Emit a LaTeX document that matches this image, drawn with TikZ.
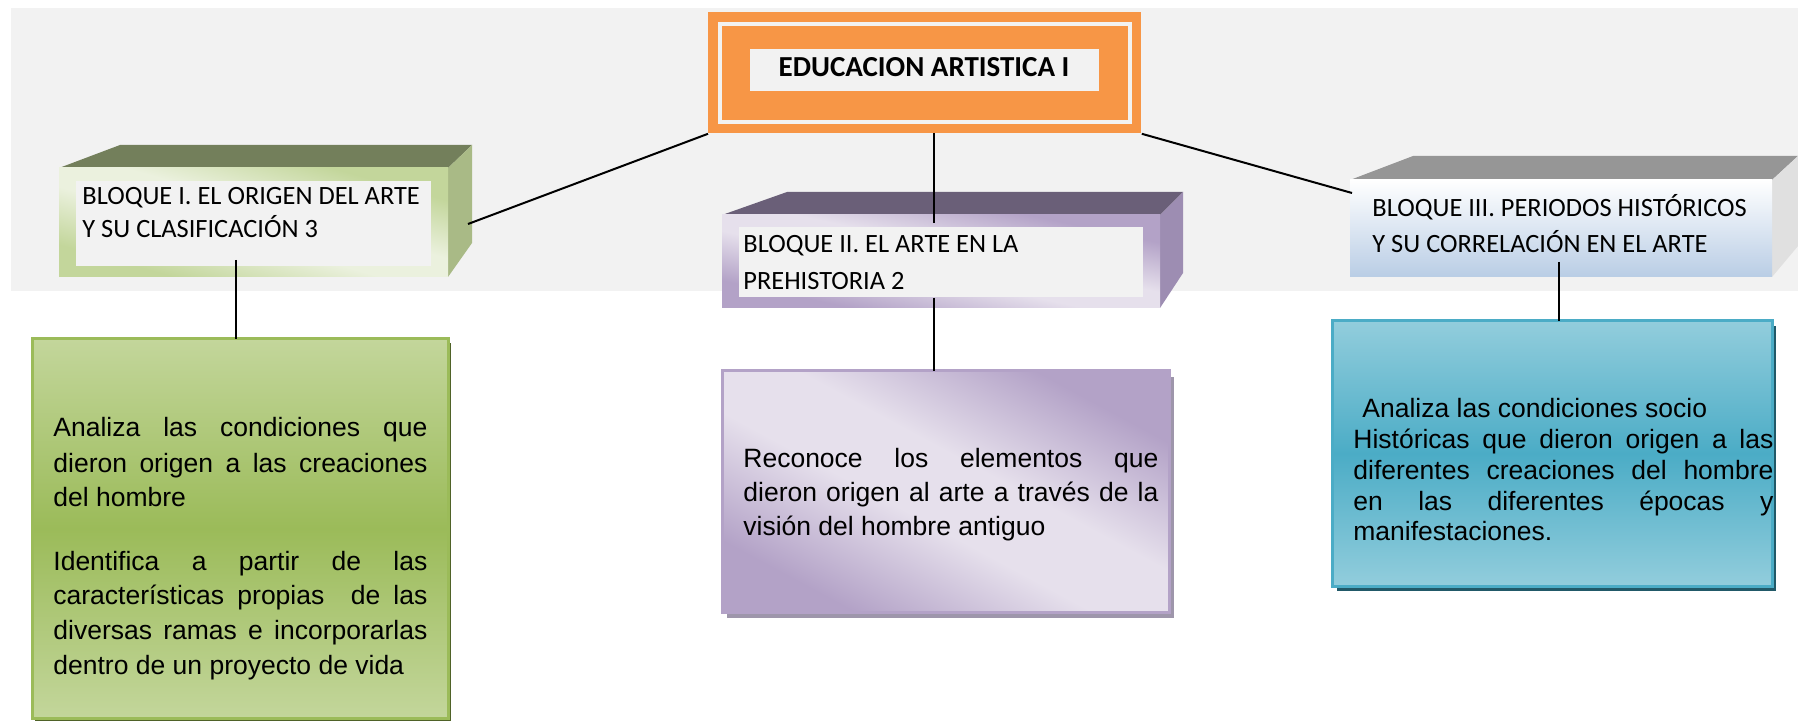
\documentclass[tikz,border=0pt]{standalone}
\usepackage{fontspec}
\setmainfont{Liberation Sans}
\newfontfamily\calib{Carlito}
\definecolor{band}{HTML}{F2F2F2}
\definecolor{orng}{HTML}{F79646}
\definecolor{gL}{HTML}{EBF1DE}
\definecolor{gD}{HTML}{C3D69B}
\definecolor{gM}{HTML}{9BBB59}
\definecolor{gTop}{HTML}{737F5B}
\definecolor{gSide}{HTML}{A9BA86}
\definecolor{gShadow}{HTML}{4F6228}
\definecolor{pL}{HTML}{E6E0EC}
\definecolor{pD}{HTML}{B3A2C7}
\definecolor{pTop}{HTML}{6A5F78}
\definecolor{pSide}{HTML}{9D8DB2}
\definecolor{pShadow}{HTML}{9E96AB}
\definecolor{bTop}{HTML}{969696}
\definecolor{bSide}{HTML}{E0E0E0}
\definecolor{bFront}{HTML}{B9CDE5}
\definecolor{cL}{HTML}{92CDDC}
\definecolor{cD}{HTML}{4BACC6}
\definecolor{cShadow}{HTML}{215968}
\pgfdeclareverticalshading{greenrefl}{100bp}{color(0bp)=(gD); color(25bp)=(gD); color(44bp)=(gL); color(56bp)=(gL); color(75bp)=(gD); color(100bp)=(gD)}
\pgfdeclareverticalshading{purplerefl}{100bp}{color(0bp)=(pD); color(25bp)=(pD); color(44bp)=(pL); color(56bp)=(pL); color(75bp)=(pD); color(100bp)=(pD)}
\pgfdeclareverticalshading{greenbox}{100bp}{color(0bp)=(gD); color(25bp)=(gD); color(50bp)=(gM); color(75bp)=(gD); color(100bp)=(gD)}
\pgfdeclareverticalshading{cyanbox}{100bp}{color(0bp)=(cL); color(25bp)=(cL); color(50bp)=(cD); color(75bp)=(cL); color(100bp)=(cL)}
\newcommand\diagshade[5]{\begin{scope}[transform canvas={shift={(#2,#3)}, xscale={(#4-#2)/100}, yscale={(#5-#3)/100}}]\shade[shading=#1, shading angle=-45] (0,0) rectangle (100,100);\end{scope}}
\begin{document}
\begin{tikzpicture}[x=0.5pt,y=-0.5pt,
  conn/.style={line width=1pt, black},
  hd/.style={font=\calib\fontsize{13.2}{16.5}\selectfont, inner sep=0pt, align=left, anchor=base west},
  desc/.style={font=\fontsize{13.25}{17.5}\selectfont, inner sep=0pt, align=justify, anchor=base west}]
\useasboundingbox (0,0) rectangle (1798,721);
% background band
\fill[band] (11,8) rectangle (1798,291);

% title
\node[fill=orng, minimum width=216.5pt, minimum height=60.5pt, inner sep=0pt, anchor=north west] (title) at (708,12) {};
\draw[band, line width=2.25pt] (720,24) rectangle (1130,122);
\node[fill=band, minimum width=174.5pt, minimum height=21pt, inner sep=0pt, anchor=north west] (tbox) at (750,49) {};
\node[font=\calib\bfseries\fontsize{14.5}{17}\selectfont, inner sep=0pt, anchor=base] (ttext) at (924,77) {EDUCACION ARTISTICA I};

% block I
\fill[gTop] (59,168) -- (120,145) -- (472,145) -- (448,168) -- cycle;
\fill[gSide] (448,168) -- (472,145) -- (472,243) -- (448,277) -- cycle;
\diagshade{greenrefl}{59}{168}{448}{277}
\fill[band] (76,181) rectangle (431,266);
\node[hd] (b1) at (82,238) {BLOQUE I. EL ORIGEN DEL ARTE\\Y SU CLASIFICACIÓN 3};

% block II
\fill[pTop] (722,215) -- (787,192) -- (1183,192) -- (1160,215) -- cycle;
\fill[pSide] (1160,215) -- (1183,192) -- (1183,273) -- (1160,308) -- cycle;
\diagshade{purplerefl}{722}{215}{1160}{308}
\fill[band] (739,227) rectangle (1143,297);
\node[hd, font=\calib\fontsize{13.2}{18.5}\selectfont] (b2) at (743,290) {BLOQUE II. EL ARTE EN LA\\PREHISTORIA 2};

% block III
\fill[bTop] (1350,180) -- (1413,156) -- (1798,156) -- (1772,180) -- cycle;
\fill[bSide] (1772,180) -- (1798,156) -- (1798,246) -- (1772,277) -- cycle;
\shade[top color=white, bottom color=bFront] (1350,180) rectangle (1772,277);
\node[hd, font=\calib\fontsize{13.2}{18}\selectfont] (b3) at (1372,253) {BLOQUE III. PERIODOS HISTÓRICOS\\Y SU CORRELACIÓN EN EL ARTE};

% description box 1
\fill[gShadow] (35,343) rectangle (451,722);
\shade[shading=greenbox, draw=gM, line width=1.5pt] (32,339) rectangle (448,718);
\node[desc, text width=187pt] (d1) at (53,437) {Analiza las condiciones que\linebreak dieron origen a las creaciones\linebreak del hombre\par\vspace{14pt}Identifica a partir de las\linebreak características propias~ de las\linebreak diversas ramas e incorporarlas\linebreak dentro de un proyecto de vida};

% description box 2
\fill[pShadow] (727,377) rectangle (1174,618);
\diagshade{purplerefl}{722}{371}{1169}{612}
\draw[pD, line width=1.5pt] (722,371) rectangle (1169,612);
\node[desc, text width=207.5pt, font=\fontsize{13.25}{17}\selectfont] (d2) at (743,467) {Reconoce los elementos que\linebreak dieron origen al arte a través de la\linebreak visión del hombre antiguo};

% description box 3
\fill[cShadow] (1337,326) rectangle (1776,591);
\shade[shading=cyanbox, draw=cD, line width=1.5pt] (1332,321) rectangle (1772,586);
\node[desc, text width=210pt, font=\fontsize{13.25}{15.5}\selectfont] (d3) at (1353,417) {\hspace*{4.5pt}Analiza las condiciones socio\\Históricas que dieron origen a las\linebreak diferentes creaciones del hombre\linebreak en las diferentes épocas y\linebreak manifestaciones.};

% connector endpoints
\coordinate (tB) at (934,133);
\coordinate (b2top) at (934,223);
\coordinate (b2bot) at (934,298);
\coordinate (d2top) at (934,371);
\coordinate (b1side) at (468,224);
\coordinate (b3side) at (1352,193);
\coordinate (b1bot) at (236,260);
\coordinate (d1top) at (236,339);
\coordinate (b3bot) at (1559,262);
\coordinate (d3top) at (1559,321);

\draw[conn] (tB) -- (b2top);
\draw[conn] (b2bot) -- (d2top);
\draw[conn] (title.south west) -- (b1side);
\draw[conn] (title.south east) -- (b3side);
\draw[conn] (b1bot) -- (d1top);
\draw[conn] (b3bot) -- (d3top);
\end{tikzpicture}
\end{document}
